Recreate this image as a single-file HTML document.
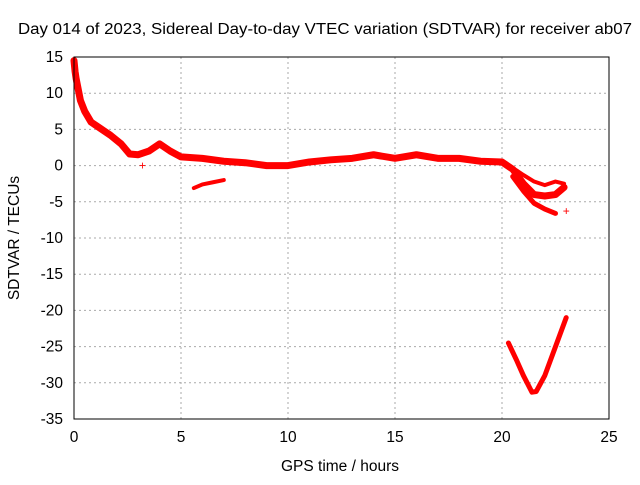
<!DOCTYPE html>
<html><head><meta charset="utf-8"><style>
body{margin:0;background:#fff}
svg{font-family:"Liberation Sans",sans-serif;font-size:15.5px}
</style></head><body>
<svg id="c" width="640" height="480">
<text x="325" y="34" text-anchor="middle" textLength="614" lengthAdjust="spacingAndGlyphs">Day 014 of 2023, Sidereal Day-to-day VTEC variation (SDTVAR) for receiver ab07</text>
<text x="340" y="471" text-anchor="middle">GPS time / hours</text>
<text transform="translate(19,238) rotate(-90)" text-anchor="middle">SDTVAR / TECUs</text>
<g id="grid"></g><g id="marks"></g>
<rect x="74" y="57" width="535" height="362" fill="none" stroke="#000"/>
</svg>
<script>
const xTicks=[0,5,10,15,20,25];
const yTicks=[15,10,5,0,-5,-10,-15,-20,-25,-30,-35];
const mainTrack=[[0,14.5],[0.05,13],[0.1,12],[0.2,10.5],[0.3,9],[0.5,7.5],[0.8,6],[1.2,5.2],[1.7,4.2],[2.2,3],[2.6,1.6],[3,1.5],[3.5,2],[4,3],[4.5,2],[5,1.2],[6,1],[7,0.6],[8,0.4],[9,0],[10,0],[11,0.5],[12,0.8],[13,1],[14,1.5],[15,1],[16,1.5],[17,1],[18,1],[19,0.6],[20,0.5],[20.5,-0.5],[21,-2.5],[21.5,-4],[22,-4.2],[22.5,-4],[22.9,-3]];
const branchLow=[[20.5,-1.5],[21,-3.5],[21.5,-5.2],[22,-6],[22.5,-6.6]];
const branchHigh=[[20.6,-0.5],[21,-1.3],[21.5,-2.2],[22,-2.7],[22.5,-2.2],[22.9,-2.5]];
const gapSegment=[[5.6,-3.1],[6,-2.6],[6.5,-2.3],[7,-2]];
const dipSegment=[[20.3,-24.5],[20.7,-27],[21,-29],[21.4,-31.3],[21.6,-31.2],[22,-29],[22.5,-25],[23,-21]];
const isolated=[[23,-6.3],[3.2,0]];
const X=v=>74+v*535/25, Y=v=>57+(15-v)*362/50;
const ns="http://www.w3.org/2000/svg";
const g=document.getElementById('grid'), m=document.getElementById('marks');
function el(t,a,p){const e=document.createElementNS(ns,t);for(const k in a)e.setAttribute(k,a[k]);p.appendChild(e);return e;}
xTicks.forEach(t=>{
 const l=el('line',{x1:X(t),x2:X(t),y1:57,y2:419,stroke:'#aaa','stroke-dasharray':'2,3'},g);
 
 
 const tx=el('text',{x:X(t),y:442,'text-anchor':'middle'},g);tx.textContent=t;
 
 
});
yTicks.forEach(t=>{
 const l=el('line',{x1:74,x2:609,y1:Y(t),y2:Y(t),stroke:'#aaa','stroke-dasharray':'2,3'},g);
 
 
 const tx=el('text',{x:63,y:Y(t)+5,'text-anchor':'end'},g);tx.textContent=t;
 
 
});
function track(pts,w,name){
 const p=el('polyline',{points:pts.map(q=>X(q[0])+','+Y(q[1])).join(' '),fill:'none',stroke:'#f00','stroke-width':w,'stroke-linejoin':'round','stroke-linecap':'round'},m);
 
 
}
track(mainTrack,7,'sdtvar-main-track');
track(branchLow,5,'sdtvar-low-branch');
track(branchHigh,4,'sdtvar-high-branch');
track(gapSegment,4,'sdtvar-gap-segment');
track(dipSegment,5,'sdtvar-dip-segment');
isolated.forEach(q=>{
 const t=el('text',{x:X(q[0]),y:Y(q[1])+4,'text-anchor':'middle',fill:'#f00','font-size':'12'},m);t.textContent='+';
 
 
});
</script>
</body></html>
